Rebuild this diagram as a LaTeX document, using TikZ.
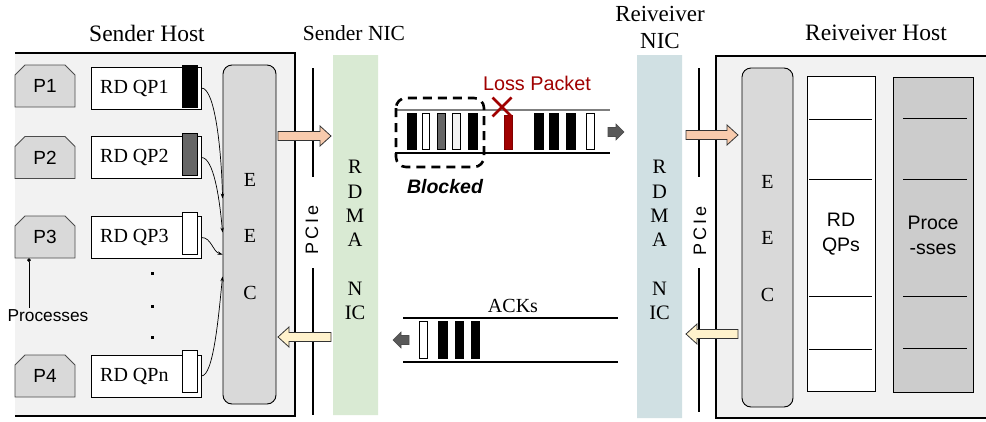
\documentclass[tikz,border=0pt]{standalone}
\usepackage{fontspec}
\setmainfont{Liberation Serif}
\setsansfont{Liberation Sans}
\usetikzlibrary{shapes.misc,arrows.meta,calc}
\definecolor{hostfill}{HTML}{F2F2F2}
\definecolor{pfill}{HTML}{D9D9D9}
\definecolor{eecfill}{HTML}{D9D9D9}
\definecolor{snic}{HTML}{D9EAD3}
\definecolor{rnic}{HTML}{D0E0E3}
\definecolor{peach}{HTML}{F8CBAD}
\definecolor{lightyel}{HTML}{FFF2CC}
\definecolor{lossred}{HTML}{A00000}
\definecolor{procfill}{HTML}{CCCCCC}
\definecolor{darkgr}{HTML}{595959}
\definecolor{midgr}{HTML}{666666}
\definecolor{wiregr}{HTML}{7F7F7F}
% style, tail x, head-base x, tip x, y, body half, head half
\newcommand{\myarrow}[7]{\draw[#1] (#2,#5-#6) -- (#3,#5-#6) -- (#3,#5-#7) -- (#4,#5) -- (#3,#5+#7) -- (#3,#5+#6) -- (#2,#5+#6) -- cycle;}
\begin{document}
\begin{tikzpicture}[x=1pt,y=-1pt,
  title/.style={font=\fontsize{23.5}{27}\selectfont, align=center, inner sep=0pt},
  serif/.style={font=\fontsize{20}{24}\selectfont, inner sep=0pt},
  sanslbl/.style={font=\sffamily\fontsize{19.5}{25}\selectfont, align=center, inner sep=0pt},
  pbox/.style={chamfered rectangle, chamfered rectangle corners={north west,north east},
     chamfered rectangle xsep=5pt, chamfered rectangle ysep=5pt, draw=black!70, line width=0.8pt,
     fill=pfill, minimum width=60pt, minimum height=42pt, inner sep=0pt,
     font=\sffamily\fontsize{19}{22}\selectfont},
  qpbox/.style={draw, line width=0.9pt, fill=white, minimum width=110pt, minimum height=42pt, inner sep=0pt},
  qpin/.style={draw, line width=0.9pt, minimum width=15pt, minimum height=42pt, inner sep=0pt},
  eecbox/.style={draw, line width=0.9pt, fill=eecfill, rounded corners=9pt, minimum width=53pt, minimum height=339pt, inner sep=0pt},
  nicbox/.style={chamfered rectangle, chamfered rectangle corners=north east,
     chamfered rectangle xsep=4pt, chamfered rectangle ysep=4pt, minimum width=45pt, inner sep=0pt},
  pcieline/.style={line width=2.6pt},
  pcietext/.style={font=\sffamily\fontsize{18}{20}\selectfont, rotate=90, inner sep=0pt},
  niclbl/.style={font=\fontsize{20.5}{24.3}\selectfont, align=center, inner sep=0pt},
  qparrow/.style={line width=0.7pt, -{Stealth[length=5pt,width=3.5pt]}},
  pkt/.style={draw, line width=0.8pt},
  wire/.style={line width=1.2pt},
  bigarrow/.style={draw=black!80, line width=0.8pt},
  smallarrow/.style={draw=black!70, line width=0.6pt, fill=darkgr},
  hostborder/.style={line width=1.6pt},
  qpline/.style={line width=1pt}
]
\useasboundingbox (0,0) rectangle (986,421);

%%%%%%%%%%%%%%%% Sender host
\fill[hostfill] (15,53) rectangle (295,416);
\draw[hostborder] (15,53) -- (295,53) -- (295,416) -- (15,416);
\node[title] (shtitle) at (147,33) {Sender Host};

\node[pbox] (p1) at (45,86) {P1};
\node[pbox] (p2) at (45,157.5) {P2};
\node[pbox] (p3) at (45,237) {P3};
\node[pbox] (p4) at (45,376) {P4};

\node[qpbox] (qp1) at (146,88) {};
\node[qpbox] (qp2) at (146,157.5) {};
\node[qpbox] (qp3) at (146,237.5) {};
\node[qpbox] (qpn) at (146,376) {};
\node[qpin, fill=black] (qp1b) at (189.5,86) {};
\node[qpin, fill=midgr] (qp2b) at (189.5,154) {};
\node[qpin, fill=white] (qp3b) at (189.5,233) {};
\node[qpin, fill=white] (qpnb) at (189.5,371) {};
\node[serif, anchor=west] (qp1t) at (100,88) {RD QP1};
\node[serif, anchor=west] (qp2t) at (100,157.5) {RD QP2};
\node[serif, anchor=west] (qp3t) at (100,237.5) {RD QP3};
\node[serif, anchor=west] (qpnt) at (100,376) {RD QPn};

\fill (150.5,271.5) rectangle +(3,3);
\fill (150.5,304.5) rectangle +(3,3);
\fill (150.5,335.5) rectangle +(3,3);

\node[eecbox] (seec) at (249.5,234.5) {};
\node[serif] (se1) at (250,180) {E};
\node[serif] (se2) at (250,236) {E};
\node[serif] (se3) at (250,293) {C};

\draw[qparrow] (qp1.east) .. controls +(14,0) and +(-1,-45) .. ($(seec.west)+(0,-36)$);
\draw[qparrow] (qp2.east) .. controls +(12,0) and +(-3,-35) .. ($(seec.west)+(0,-2)$);
\draw[qparrow] (qp3.east) .. controls +(10,0) and +(-10,-3) .. ($(seec.west)+(0,20)$);
\draw[qparrow] (qpn.east) .. controls +(12,0) and +(-4,40) .. ($(seec.west)+(0,42)$);

\node[font=\sffamily\fontsize{17.3}{20}\selectfont, inner sep=0pt] (plabel) at (48,316) {Processes};
\coordinate (pdot) at ($(p3.south)+(-16,0)$);
\draw[line width=0.8pt, {Circle[length=3.5pt]}-] (pdot) -- ($(pdot |- plabel.north)+(0,-2)$);

%%%%%%%%%%%%%%%% Sender PCIe and NIC
\draw[pcieline] (313,68) -- (313,177);
\draw[pcieline] (313,268) -- (313,415);
\node[pcietext] (spcie) at (312,230) {P\hspace{3pt}C\hspace{3pt}I\hspace{3pt}e};

\node[nicbox, fill=snic, minimum height=360pt] (snicb) at (355.5,235) {};
\node[niclbl] (snict) at (355,240) {R\\D\\M\\A\\[24.3pt]N\\IC};
\node[title, font=\fontsize{21.5}{27}\selectfont] (snictitle) at (354,33) {Sender NIC};

\myarrow{bigarrow, fill=peach}{278}{320}{331}{136}{4.5}{10}
\myarrow{bigarrow, fill=lightyel}{331}{289}{278}{337}{4.5}{10}

%%%%%%%%%%%%%%%% Data wire
\draw[wire, wiregr] (395,110) -- (610,110);
\draw[wire] (395,153) -- (610,153);
\foreach \a/\b/\c in {407/416/black, 422/429/white, 437/445/midgr, 452/460/hostfill, 468/477/black,
                      534/543/black, 549/558/black, 566/575/black, 586/594/white}
  \draw[pkt, fill=\c] (\a,113) rectangle (\b,149);
\draw[line width=0.8pt, draw=lossred!80!black, fill=lossred] (504,115) rectangle (512,149);
\draw[line width=2.6pt, dash pattern=on 9pt off 6pt, rounded corners=10pt] (396,98) rectangle (484,167);
\node[font=\sffamily\bfseries\itshape\fontsize{19.5}{22}\selectfont, inner sep=0pt] (blocked) at (445,187) {Blocked};
\node[font=\sffamily\fontsize{19.8}{22}\selectfont, text=lossred, inner sep=0pt] (loss) at (537,83) {Loss Packet};
\draw[lossred, line width=2.6pt] (492.5,97.5) -- (511.5,116.5) (511.5,97.5) -- (492.5,116.5);
\myarrow{smallarrow}{608}{616}{624}{132}{4.5}{8}

%%%%%%%%%%%%%%%% ACK wire
\draw[wire] (403,318) -- (618,318);
\draw[wire] (403,362) -- (618,362);
\node[serif] (acks) at (513,306) {ACKs};
\foreach \a/\b/\c in {419/427/white, 438/447/black, 455/463/black, 471/479/black}
  \draw[pkt, fill=\c] (\a,321) rectangle (\b,358);
\myarrow{smallarrow}{409}{401}{393}{340}{4.5}{8}

%%%%%%%%%%%%%%%% Receiver NIC and PCIe
\node[nicbox, fill=rnic, minimum height=363pt] (rnicb) at (659.5,236.5) {};
\node[niclbl] (rnict) at (659.5,240) {R\\D\\M\\A\\[24.3pt]N\\IC};
\node[title, font=\fontsize{23}{27}\selectfont] (rnictitle) at (660,27) {Reiveiver\\NIC};

\draw[pcieline] (699,68) -- (699,177);
\draw[pcieline] (699,268) -- (699,412);
\node[pcietext] (rpcie) at (700,231) {P\hspace{3pt}C\hspace{3pt}I\hspace{3pt}e};

%%%%%%%%%%%%%%%% Receiver host
\fill[hostfill] (716,56) rectangle (986,418);
\draw[hostborder] (986,56) -- (716,56) -- (716,418) -- (986,418);
\node[title] (rhtitle) at (876,33) {Reiveiver Host};

\myarrow{bigarrow, fill=peach}{686}{727}{738}{135}{4.5}{10}
\myarrow{bigarrow, fill=lightyel}{738}{697}{686}{334}{4.5}{10}

\node[eecbox, minimum width=51pt] (reec) at (767.5,237.5) {};
\node[serif] (re1) at (767.5,182) {E};
\node[serif] (re2) at (767.5,238) {E};
\node[serif] (re3) at (767.5,295) {C};

\node[draw, line width=0.9pt, fill=white, minimum width=68pt, minimum height=315pt, inner sep=0pt] (rqps) at (841,233.5) {};
\foreach \y in {119,179,296,349} \draw[qpline] (809,\y) -- (872,\y);
\node[sanslbl] (rqpst) at (841,234) {RD\\QPs};

\node[draw, line width=0.9pt, fill=procfill, minimum width=80pt, minimum height=315pt, inner sep=0pt] (rproc) at (933,234.5) {};
\foreach \y in {118,179,296,348} \draw[qpline] (903,\y) -- (967,\y);
\node[sanslbl] (rproct) at (933,235) {Proce\\-sses};
\end{tikzpicture}
\end{document}
